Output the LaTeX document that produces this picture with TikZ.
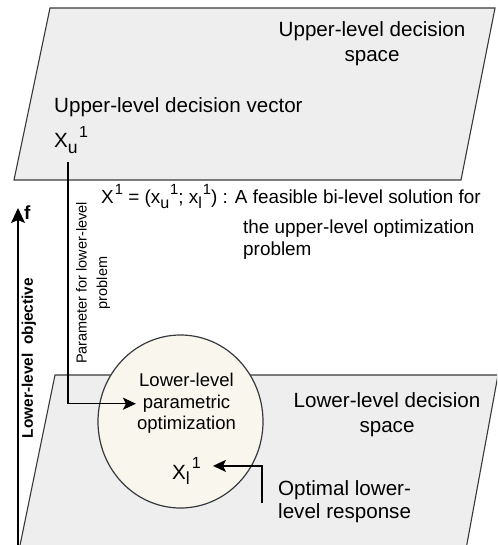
\documentclass[tikz,border=0pt]{standalone}
\usepackage{fontspec}
\usepackage{graphicx}
\setmainfont{Liberation Sans}
\usetikzlibrary{arrows.meta,shapes.geometric}
\definecolor{plane}{HTML}{EEEEEE}
\definecolor{edgec}{HTML}{36393D}
\definecolor{cream}{HTML}{F9F7ED}
\newcommand\lowsub[1]{\raisebox{-0.25em}{\scalebox{0.85}{#1}}}
\newcommand\highsup[1]{\raisebox{0.5em}{\scalebox{0.78}{#1}}}
\begin{document}
\begin{tikzpicture}[x=1pt,y=-1pt,
  planestyle/.style={fill=plane,draw=edgec,line width=1.1pt,line join=miter},
  maintext/.style={inner sep=0pt,font=\fontsize{20.6pt}{25.5pt}\selectfont},
  circtext/.style={inner sep=1pt,font=\fontsize{18.5pt}{21.5pt}\selectfont},
  captext/.style={inner sep=0pt,font=\fontsize{18.9pt}{22pt}\selectfont},
  smalltext/.style={inner sep=0pt,font=\fontsize{14.5pt}{20.5pt}\selectfont},
  boldtext/.style={inner sep=0pt,font=\fontsize{15.4pt}{18pt}\selectfont\bfseries},
  conn/.style={draw=black,line width=1.5pt,-{Stealth[length=13pt,width=12pt,inset=3pt]}},
  axisline/.style={draw=black,line width=1.5pt,-{Stealth[length=15pt,width=14pt,inset=3pt]}}
]
\useasboundingbox (0,0) rectangle (497,545);
\clip (0,0) rectangle (497,545);
\fill[white] (0,0) rectangle (497,545);

% planes
\path[planestyle] (50,8) -- (495,8) -- (461,180) -- (14,180) -- cycle;
\path[planestyle] (55,375) -- (498,375) -- (464,560) -- (17,560) -- cycle;

% circle
\node[ellipse,draw=edgec,fill=cream,line width=1.2pt,inner sep=0pt,
      minimum width=165pt,minimum height=173pt] (circ) at (180.5,421.5) {};

% texts upper plane
\node[maintext,align=center] (uspace) at (372,43.5) {Upper-level decision\\space};
\node[maintext,anchor=base west] (uvec) at (54,113) {Upper-level decision vector};
\node[maintext,anchor=base west] (xu) at (54,148) {X\lowsub{u}\kern1.5pt\highsup{1}};

% caption
\node[captext,anchor=base west] (cap1) at (101,204)
  {X\kern1pt\highsup{1} = (x\lowsub{u}\kern1pt\highsup{1}; x\lowsub{l}\kern1pt\highsup{1}) : A feasible bi-level solution for};
\node[captext,anchor=north west,align=left] (cap2) at (243,219.5)
  {the upper-level optimization\\problem};

% lower plane texts
\node[maintext,align=center] (lspace) at (387,414.7) {Lower-level decision\\space};
\node[circtext,align=center] (ptext) at (186.5,403.7) {Lower-level\\parametric\\optimization};
\node[maintext,anchor=base west] (xl) at (172,479) {X\lowsub{l}\kern2pt\highsup{1}};
\node[maintext,anchor=north west,align=left,
      font=\fontsize{20.6pt}{23pt}\selectfont] (opt) at (278,480) {Optimal lower-\\level response};

% rotated labels
\node[smalltext,align=center,rotate=90] (param) at (93,283) {Parameter for lower-level\\problem};
\node[boldtext,rotate=90] (obj) at (29,358) {Lower-level~ objective};
\node[boldtext,anchor=base west,font=\fontsize{19pt}{20pt}\selectfont\bfseries] (f) at (24,219) {f};

% connectors
\coordinate (ax0) at (18,548);
\coordinate (ax1) at (18,208);
\draw[axisline] (ax0) -- (ax1);

\draw[conn] ([xshift=-3pt,yshift=-8pt]xu.south) |- (ptext.west);

\coordinate (o1) at (262,503);
\draw[conn] (o1) |- ([xshift=12pt,yshift=5pt]xl.east);
\end{tikzpicture}
\end{document}
